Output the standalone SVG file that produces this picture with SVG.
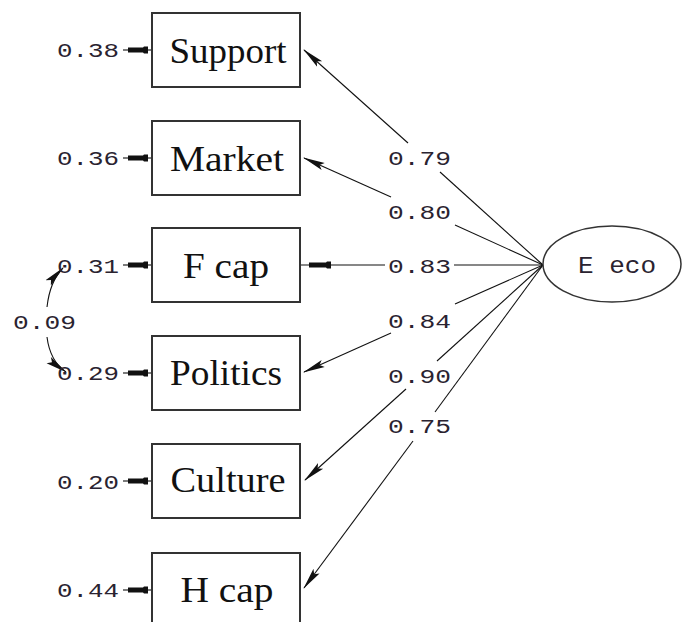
<svg xmlns="http://www.w3.org/2000/svg" xmlns:xlink="http://www.w3.org/1999/xlink" width="682" height="622" viewBox="0 0 682 622">
<style>
.box{fill:#fff;stroke:#333;stroke-width:2}
.lbl{font-family:"Liberation Serif","Times New Roman",serif;font-size:36px;fill:#111;text-anchor:middle}
.num{font-family:"Liberation Mono","Courier New",monospace;font-size:20px;fill:#2a2330}
.ln{fill:none;stroke:#111;stroke-width:1.1}
.hd{fill:#111}
</style>
<defs>
<marker id="ah" markerUnits="userSpaceOnUse" markerWidth="22" markerHeight="10" viewBox="0 0 22 10" refX="21" refY="5" orient="auto">
<path d="M22,5 L0,1.2 L4,5 L0,8.8 z" fill="#111"/>
</marker>
<path id="rh" d="M0,-2.5 L15,-2.5 L16,-3.6 L20,-3.6 L20,3.6 L16,3.6 L15,2.5 L0,2.5 z"/>
<path id="fh" d="M0,-2.5 L17,-2.5 L18,-3.6 L22,-3.6 L22,3.6 L18,3.6 L17,2.5 L0,2.5 z"/>
</defs>
<rect width="682" height="622" fill="#fff"/>
<g id="connectors">
<path class="ln" d="M440,172 L543,265"/><path class="ln" d="M408,143 L304,50" marker-end="url(#ah)"/>
<path class="ln" d="M455,225 L543,265"/><path class="ln" d="M391,197 L304,158" marker-end="url(#ah)"/>
<path class="ln" d="M454,265 L543,265"/><path class="ln" d="M385,265 L301,265"/><use xlink:href="#fh" class="hd" x="309" y="265"/>
<path class="ln" d="M543,265 L455,304"/><path class="ln" d="M391,333 L304,372" marker-end="url(#ah)"/>
<path class="ln" d="M543,265 L437,361"/><path class="ln" d="M406,389 L305,480" marker-end="url(#ah)"/>
<path class="ln" d="M543,265 L435,412"/><path class="ln" d="M413,441 L304,588" marker-end="url(#ah)"/>
<path class="ln" d="M123,50 H152"/><use xlink:href="#rh" class="hd" x="128" y="50"/>
<path class="ln" d="M123,158 H152"/><use xlink:href="#rh" class="hd" x="128" y="158"/>
<path class="ln" d="M123,265 H152"/><use xlink:href="#rh" class="hd" x="128" y="265"/>
<path class="ln" d="M123,373 H152"/><use xlink:href="#rh" class="hd" x="128" y="373"/>
<path class="ln" d="M123,481 H152"/><use xlink:href="#rh" class="hd" x="128" y="481"/>
<path class="ln" d="M123,590 H152"/><use xlink:href="#rh" class="hd" x="128" y="590"/>
<path class="ln" d="M47,307 Q50,281 63,268" marker-end="url(#ah)"/>
<path class="ln" d="M47,337 Q50,361 66,372" marker-end="url(#ah)"/>
<text class="num" x="388" y="165" textLength="63" lengthAdjust="spacingAndGlyphs">0.79</text>
<text class="num" x="388" y="219" textLength="63" lengthAdjust="spacingAndGlyphs">0.80</text>
<text class="num" x="388" y="273" textLength="63" lengthAdjust="spacingAndGlyphs">0.83</text>
<text class="num" x="388" y="328" textLength="63" lengthAdjust="spacingAndGlyphs">0.84</text>
<text class="num" x="388" y="383" textLength="63" lengthAdjust="spacingAndGlyphs">0.90</text>
<text class="num" x="388" y="433" textLength="63" lengthAdjust="spacingAndGlyphs">0.75</text>
<text class="num" x="13" y="329" textLength="63" lengthAdjust="spacingAndGlyphs">0.09</text>
</g>
<g id="support"><rect class="box" x="152" y="13" width="148" height="74"/><text class="lbl" x="228" y="62.5" textLength="117" lengthAdjust="spacingAndGlyphs">Support</text><text class="num" x="57" y="57" textLength="62" lengthAdjust="spacingAndGlyphs">0.38</text></g>
<g id="market"><rect class="box" x="152" y="121" width="148" height="74"/><text class="lbl" x="227" y="170.5" textLength="114" lengthAdjust="spacingAndGlyphs">Market</text><text class="num" x="57" y="165" textLength="62" lengthAdjust="spacingAndGlyphs">0.36</text></g>
<g id="fcap"><rect class="box" x="152" y="228" width="148" height="74"/><text class="lbl" x="226" y="278" textLength="86" lengthAdjust="spacingAndGlyphs">F cap</text><text class="num" x="57" y="273" textLength="62" lengthAdjust="spacingAndGlyphs">0.31</text></g>
<g id="politics"><rect class="box" x="152" y="336" width="148" height="74"/><text class="lbl" x="226" y="385" textLength="112" lengthAdjust="spacingAndGlyphs">Politics</text><text class="num" x="57" y="380" textLength="62" lengthAdjust="spacingAndGlyphs">0.29</text></g>
<g id="culture"><rect class="box" x="152" y="444" width="148" height="74"/><text class="lbl" x="228" y="492" textLength="115" lengthAdjust="spacingAndGlyphs">Culture</text><text class="num" x="57" y="489" textLength="62" lengthAdjust="spacingAndGlyphs">0.20</text></g>
<g id="hcap"><rect class="box" x="152" y="553" width="148" height="74"/><text class="lbl" x="227" y="602" textLength="93" lengthAdjust="spacingAndGlyphs">H cap</text><text class="num" x="57" y="597" textLength="62" lengthAdjust="spacingAndGlyphs">0.44</text></g>
<g id="eeco"><ellipse cx="612" cy="264" rx="69" ry="38" fill="#fff" stroke="#333" stroke-width="1.5"/><text class="num" x="578" y="273" style="font-size:24px" textLength="78" lengthAdjust="spacingAndGlyphs">E eco</text></g>
</svg>
